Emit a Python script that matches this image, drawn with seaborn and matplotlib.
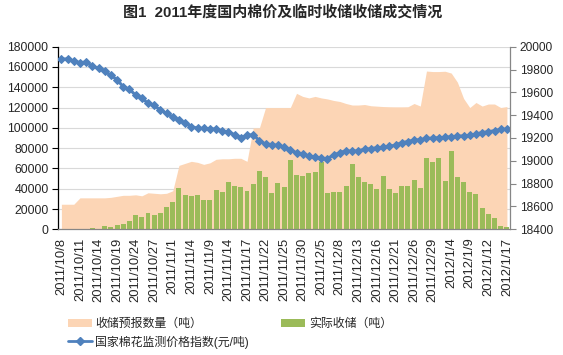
import numpy as np
import pandas as pd
import seaborn as sns
import matplotlib.pyplot as plt
from matplotlib.patches import Patch
from matplotlib.lines import Line2D

sns.set_theme(style="white")
plt.rcParams['font.family'] = ['Liberation Sans', 'Noto Sans CJK SC']

# trading days shown on the category axis
dates = [
    "2011/10/8", "2011/10/9", "2011/10/10", "2011/10/11", "2011/10/12", "2011/10/13", "2011/10/14",
    "2011/10/17", "2011/10/18", "2011/10/19", "2011/10/20", "2011/10/21",
    "2011/10/24", "2011/10/25", "2011/10/26", "2011/10/27", "2011/10/28",
    "2011/10/31", "2011/11/1", "2011/11/2", "2011/11/3", "2011/11/4",
    "2011/11/7", "2011/11/8", "2011/11/9", "2011/11/10", "2011/11/11",
    "2011/11/14", "2011/11/15", "2011/11/16", "2011/11/17", "2011/11/18",
    "2011/11/21", "2011/11/22", "2011/11/23", "2011/11/24", "2011/11/25",
    "2011/11/28", "2011/11/29", "2011/11/30", "2011/12/1", "2011/12/2",
    "2011/12/5", "2011/12/6", "2011/12/7", "2011/12/8", "2011/12/9",
    "2011/12/12", "2011/12/13", "2011/12/14", "2011/12/15", "2011/12/16",
    "2011/12/19", "2011/12/20", "2011/12/21", "2011/12/22", "2011/12/23",
    "2011/12/26", "2011/12/27", "2011/12/28", "2011/12/29", "2011/12/30", "2011/12/31",
    "2012/1/4", "2012/1/5", "2012/1/6",
    "2012/1/9", "2012/1/10", "2012/1/11", "2012/1/12", "2012/1/13",
    "2012/1/16", "2012/1/17",
]

# 收储预报数量（吨）
forecast = [
    24700, 24700, 24700, 31000, 31000, 31000, 31000, 31000, 31500, 32500,
    33500, 33500, 34000, 33000, 36000, 35500, 35000, 35500, 38000, 63000,
    65000, 67000, 66000, 64000, 65500, 69000, 69500, 69500, 70000, 70000,
    67000, 100000, 100000, 120000, 120000, 120000, 120000, 120000, 134000, 131000,
    129500, 131000, 129500, 128500, 127000, 126000, 124000, 122500, 122500, 123000,
    121800, 121400, 121000, 120800, 120700, 120700, 120800, 124000, 121500, 156000,
    155500, 155500, 155800, 154000, 145000, 129000, 120000, 125000, 121500, 123500,
    123500, 120000, 121000,
]

# 实际收储（吨）
actual = [
    0, 0, 0, 0, 0, 1000, 0, 3000, 2000, 4000,
    5000, 8000, 14500, 12000, 16000, 14000, 16000, 22000, 27000, 40500,
    34000, 33000, 34000, 29000, 29000, 38500, 36500, 46500, 42500, 41500,
    37500, 44500, 57500, 51500, 35800, 45600, 41800, 68100, 53300, 52600,
    55300, 56300, 66500, 35500, 36500, 36500, 42800, 64200, 51300, 46400,
    44400, 39500, 52600, 39500, 35900, 42800, 42800, 48400, 40500, 70400,
    66100, 70700, 47500, 77100, 51800, 46500, 36800, 35000, 21000, 15200,
    11200, 3100, 2300,
]

# 国家棉花监测价格指数(元/吨)
price = [
    19892, 19892, 19874, 19860, 19866, 19828, 19810, 19785, 19750, 19710,
    19649, 19626, 19576, 19550, 19504, 19485, 19444, 19415, 19386, 19357,
    19328, 19300, 19285, 19284, 19280, 19278, 19262, 19252, 19230, 19203,
    19222, 19230, 19176, 19148, 19142, 19135, 19118, 19095, 19071, 19060,
    19042, 19031, 19022, 19020, 19051, 19071, 19089, 19082, 19089, 19101,
    19106, 19115, 19118, 19126, 19138, 19159, 19168, 19182, 19184, 19197,
    19198, 19203, 19206, 19211, 19216, 19218, 19222, 19235, 19247, 19255,
    19264, 19276, 19278,
]

df = pd.DataFrame({"date": dates, "forecast": forecast, "actual": actual, "price": price})
pos = np.arange(len(df))

area_color = "#FCD5B5"
bar_color = "#9BBB59"
line_color = "#4F81BD"

W, H = 563, 355
fig = plt.figure(figsize=(W / 100, H / 100), dpi=100)
ax = fig.add_axes([58.3 / W, 1 - 229.3 / H, (510 - 58.3) / W, (229.3 - 46.7) / H])

ax.fill_between(pos, df["forecast"], color=area_color, lw=0, zorder=1)
sns.barplot(data=df, x="date", y="actual", ax=ax, color=bar_color,
            saturation=1, width=0.8, linewidth=0, zorder=2)

ax.set_xlim(-0.5, len(df) - 0.5)
ax.set_ylim(0, 180000)
ax.set_yticks(np.arange(0, 180001, 20000))
ax.set_xticks(pos[::3])
ax.set_xticklabels(df["date"][::3], rotation=90, fontsize=9.4)
ax.set_xlabel("")
ax.set_ylabel("")
ax.yaxis.grid(True, color="#D9D9D9", lw=0.8)
ax.set_axisbelow(True)
ax.tick_params(axis="y", labelsize=8.8, length=4, width=0.8, color="black", direction="out", pad=3, left=True)
ax.tick_params(axis="x", length=0, pad=6)
for s in ["top", "right"]:
    ax.spines[s].set_visible(False)
ax.spines["left"].set_color("black")
ax.spines["left"].set_linewidth(0.9)
ax.spines["bottom"].set_color("#868686")
ax.spines["bottom"].set_linewidth(0.9)

ax2 = ax.twinx()
sns.lineplot(x=pos, y=df["price"], ax=ax2, color=line_color, lw=2.2,
             marker="D", markersize=4.3, markeredgecolor=line_color)
ax2.set_ylim(18400, 20000)
ax2.set_yticks(np.arange(18400, 20001, 200))
ax2.set_ylabel("")
ax2.grid(False)
ax2.tick_params(axis="y", labelsize=8.6, length=4, width=0.8, color="#868686", direction="out", pad=3, right=True)
for s in ["top", "left", "bottom"]:
    ax2.spines[s].set_visible(False)
ax2.spines["right"].set_color("#868686")
ax2.spines["right"].set_linewidth(0.9)

fig.text(283 / W, 1 - 12 / H, "图1  2011年度国内棉价及临时收储收储成交情况",
         ha="center", va="center", fontsize=10.8, fontweight="bold")

handles = [
    Patch(facecolor=area_color, edgecolor="none"),
    Line2D([0], [0], color=line_color, lw=2, marker="D", markersize=4),
    Patch(facecolor=bar_color, edgecolor="none"),
]
labels = ["收储预报数量（吨）", "国家棉花监测价格指数(元/吨)", "实际收储（吨）"]
fig.legend(handles, labels, loc="upper left", bbox_to_anchor=(68 / W, 1 - 318 / H),
           ncol=2, frameon=False, fontsize=8.6, borderpad=0, borderaxespad=0,
           handlelength=2.0, handletextpad=0.3, columnspacing=2.7, labelspacing=0.45)

fig.savefig("out.png", dpi=100)
